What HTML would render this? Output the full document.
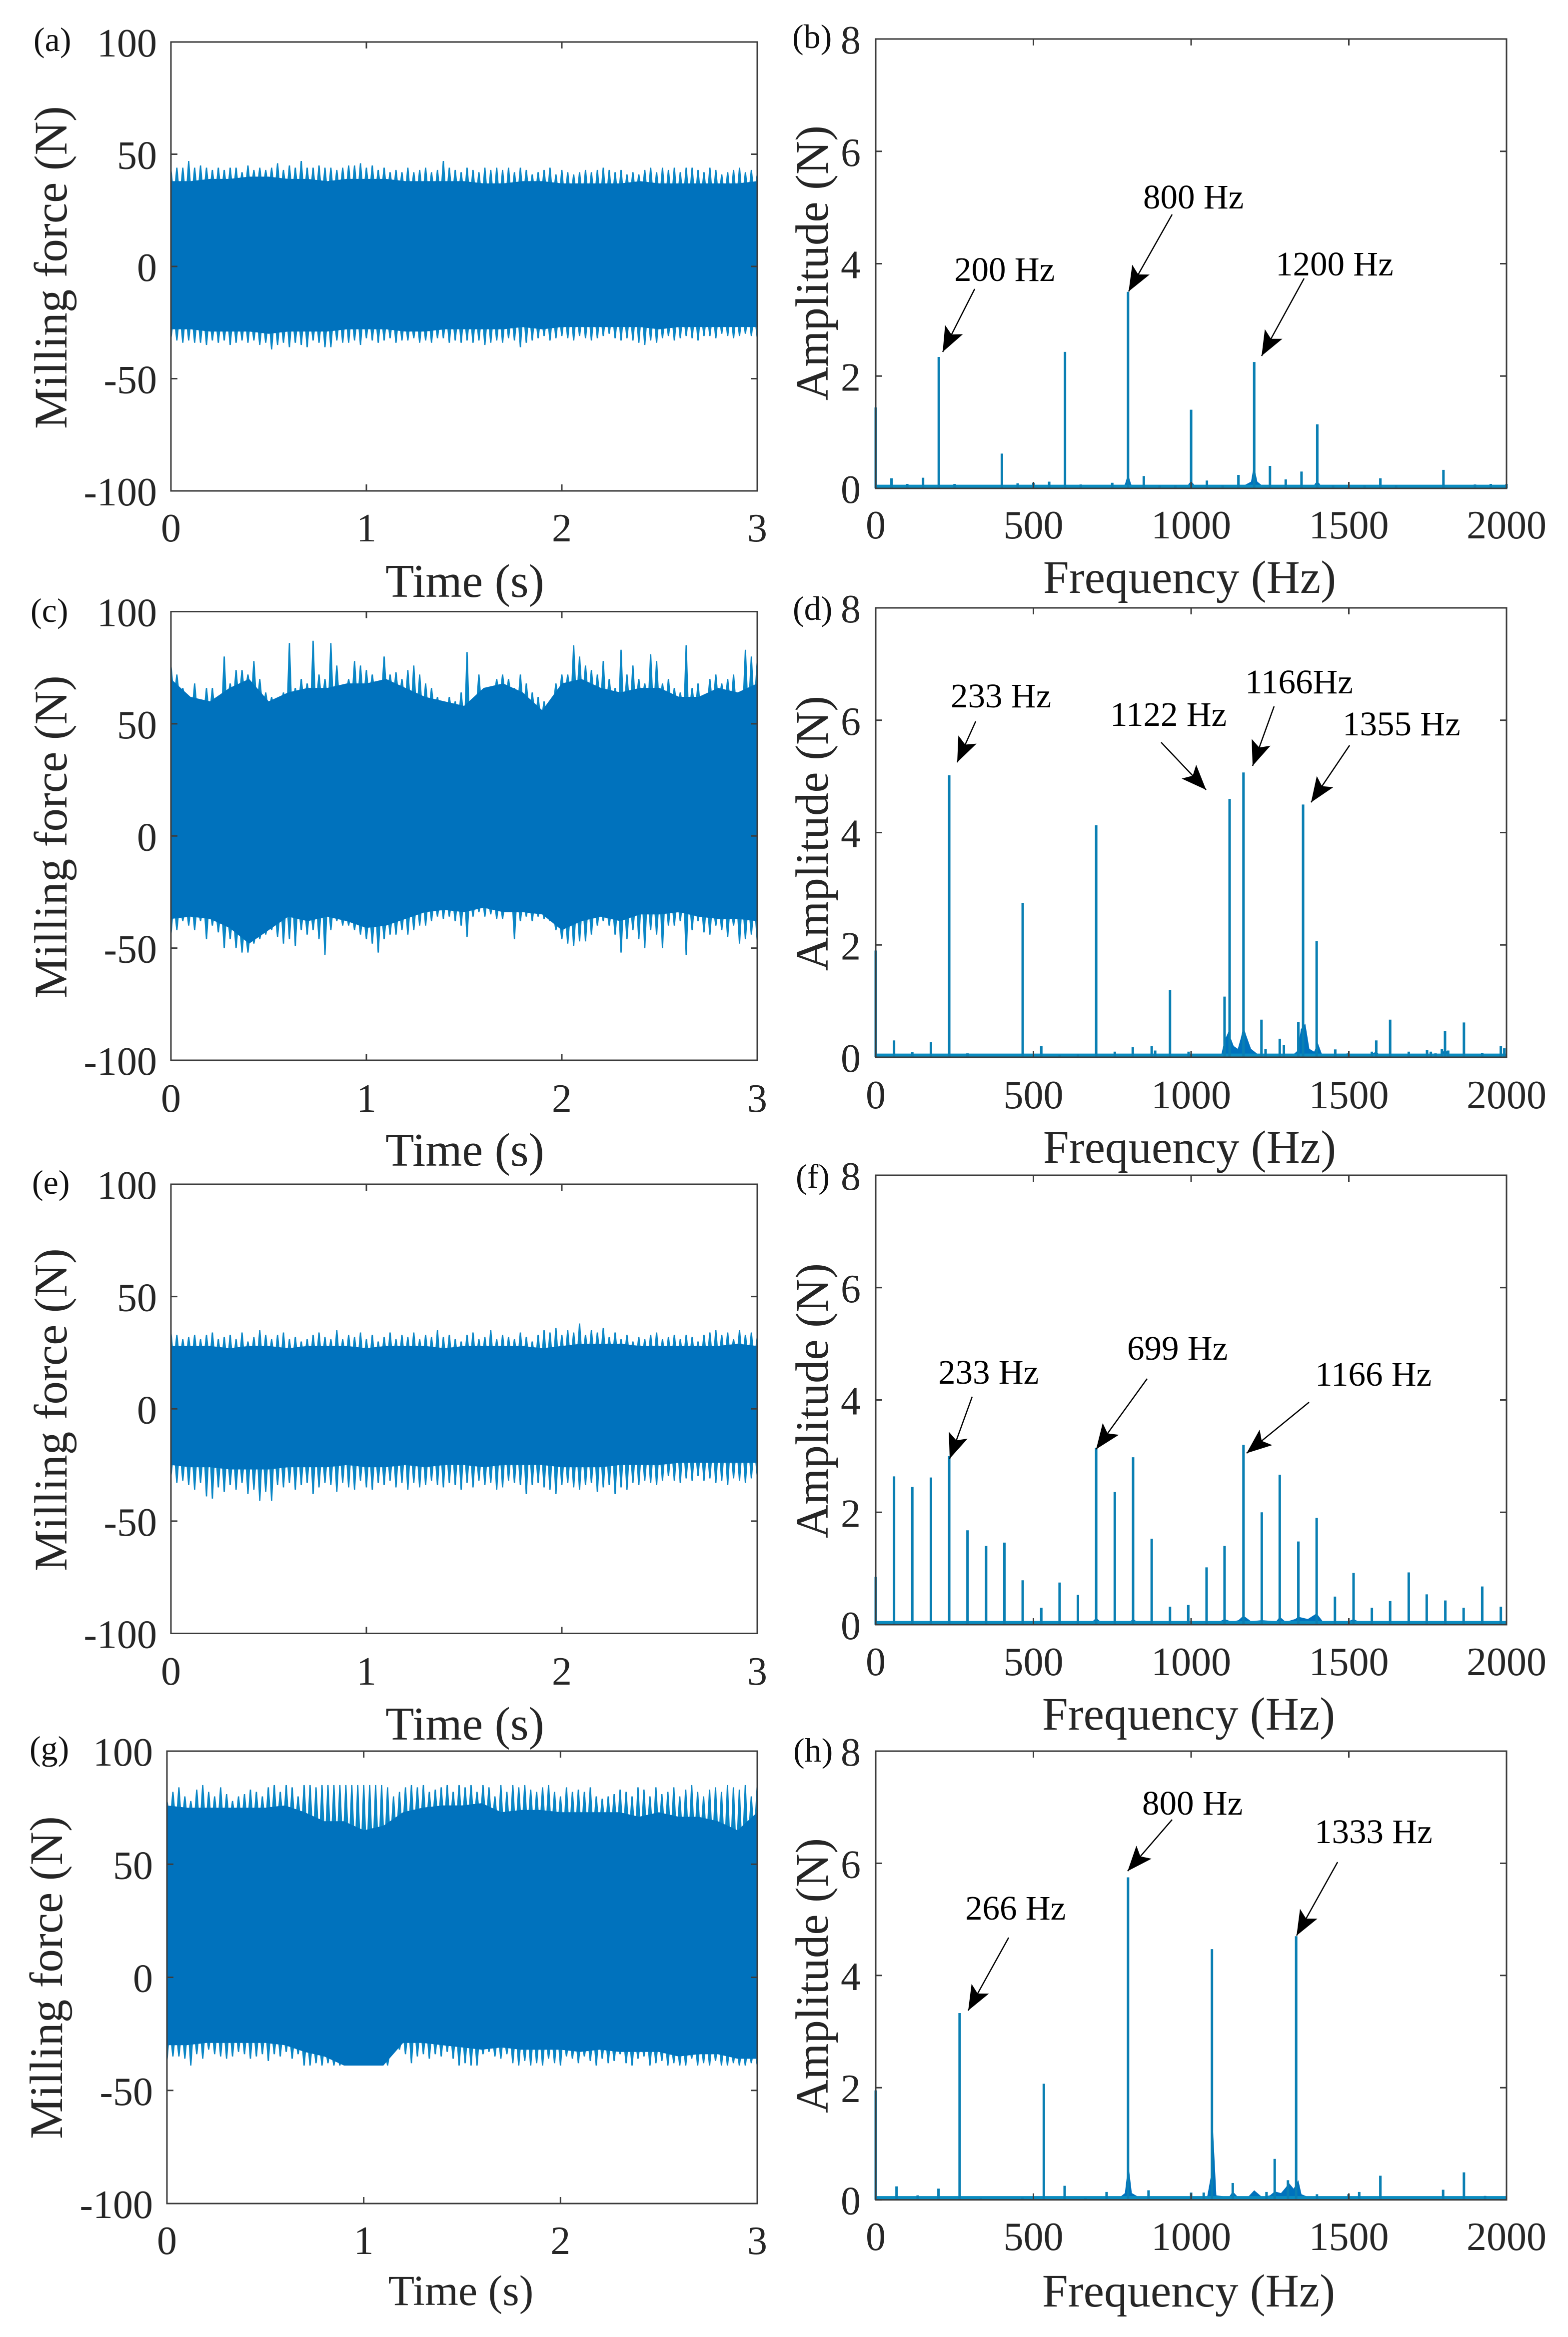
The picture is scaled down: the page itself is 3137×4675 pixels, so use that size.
<!DOCTYPE html>
<html lang="en">
<head>
<meta charset="utf-8">
<title>Milling force and amplitude spectra</title>
<style>
html,body{margin:0;padding:0;background:#fff;}
svg{display:block;font-family:"Liberation Serif","Times New Roman",serif;}
.tick{font-size:80px;fill:#262626;}
.axt{font-size:93px;fill:#262626;text-anchor:middle;}
.axx{font-size:94px;fill:#262626;text-anchor:middle;}
.axf{font-size:93px;fill:#262626;text-anchor:middle;}
.pl{font-size:68px;fill:#111;}
.an{font-size:69px;fill:#000;}
.ar{stroke:#000;stroke-width:2.5;fill:none;}
</style>
</head>
<body>
<svg id="fig" xmlns="http://www.w3.org/2000/svg" width="3137" height="4675" viewBox="0 0 3137 4675">
<defs>
<marker id="head" markerUnits="userSpaceOnUse" markerWidth="60" markerHeight="50" refX="50" refY="20" orient="auto">
<path d="M50 20 L0 0 L11 20 L0 40 Z" fill="#000"/>
</marker>
</defs>
<rect x="0" y="0" width="3137" height="4675" fill="#fff"/>
<g id="plots"></g>

<text class="pl" x="67" y="102">(a)</text>
<text class="pl" x="1585" y="96">(b)</text>
<text class="pl" x="61" y="1244">(c)</text>
<text class="pl" x="1586" y="1240">(d)</text>
<text class="pl" x="64" y="2388">(e)</text>
<text class="pl" x="1592" y="2376">(f)</text>
<text class="pl" x="59" y="3520">(g)</text>
<text class="pl" x="1587" y="3524">(h)</text>

<text class="axt" transform="translate(133 535) rotate(-90)">Milling force (N)</text>
<text class="axx" x="930" y="1194">Time (s)</text>
<text class="axt" transform="translate(1656 526) rotate(-90)">Amplitude (N)</text>
<text class="axf" x="2380" y="1186">Frequency (Hz)</text>

<text class="axt" transform="translate(133 1674) rotate(-90)">Milling force (N)</text>
<text class="axx" x="930" y="2332">Time (s)</text>
<text class="axt" transform="translate(1656 1667) rotate(-90)">Amplitude (N)</text>
<text class="axf" x="2380" y="2326">Frequency (Hz)</text>

<text class="axt" transform="translate(133 2820) rotate(-90)">Milling force (N)</text>
<text class="axx" x="930" y="3480">Time (s)</text>
<text class="axt" transform="translate(1656 2802) rotate(-90)">Amplitude (N)</text>
<text class="axf" x="2378" y="3460">Frequency (Hz)</text>

<text class="axt" transform="translate(124 3956) rotate(-90)">Milling force (N)</text>
<text class="axt" style="font-size:86px" x="922" y="4611">Time (s)</text>
<text class="axt" transform="translate(1656 3952) rotate(-90)">Amplitude (N)</text>
<text class="axf" x="2378" y="4614">Frequency (Hz)</text>

<text class="an" x="1909" y="562">200 Hz</text>
<line class="ar" x1="1950" y1="578" x2="1886" y2="704" marker-end="url(#head)"/>
<text class="an" x="2287" y="417">800 Hz</text>
<line class="ar" x1="2345" y1="429" x2="2258" y2="583" marker-end="url(#head)"/>
<text class="an" x="2552" y="551">1200 Hz</text>
<line class="ar" x1="2609" y1="557" x2="2524" y2="712" marker-end="url(#head)"/>

<text class="an" x="1902" y="1415">233 Hz</text>
<line class="ar" x1="1952" y1="1443" x2="1915" y2="1525" marker-end="url(#head)"/>
<text class="an" x="2221" y="1452">1122 Hz</text>
<line class="ar" x1="2323" y1="1485" x2="2413" y2="1580" marker-end="url(#head)"/>
<text class="an" x="2491" y="1387">1166Hz</text>
<line class="ar" x1="2549" y1="1413" x2="2506" y2="1532" marker-end="url(#head)"/>
<text class="an" x="2686" y="1471">1355 Hz</text>
<line class="ar" x1="2700" y1="1491" x2="2623" y2="1605" marker-end="url(#head)"/>

<text class="an" x="1877" y="2768">233 Hz</text>
<line class="ar" x1="1945" y1="2794" x2="1900" y2="2918" marker-end="url(#head)"/>
<text class="an" x="2255" y="2720">699 Hz</text>
<line class="ar" x1="2295" y1="2758" x2="2193" y2="2899" marker-end="url(#head)"/>
<text class="an" x="2631" y="2772">1166 Hz</text>
<line class="ar" x1="2619" y1="2805" x2="2494" y2="2907" marker-end="url(#head)"/>

<text class="an" x="2285" y="3630">800 Hz</text>
<line class="ar" x1="2345" y1="3640" x2="2256" y2="3743" marker-end="url(#head)"/>
<text class="an" x="2630" y="3687">1333 Hz</text>
<line class="ar" x1="2676" y1="3725" x2="2594" y2="3872" marker-end="url(#head)"/>
<text class="an" x="1931" y="3840">266 Hz</text>
<line class="ar" x1="2018" y1="3876" x2="1937" y2="4022" marker-end="url(#head)"/>
</svg>

<script>
// ---- tick labels ----
const forceTicks = [-100, -50, 0, 50, 100];
const timeTicks = [0, 1, 2, 3];
const ampTicks = [0, 2, 4, 6, 8];
const freqTicks = [0, 500, 1000, 1500, 2000];

// ---- time-domain series: peak envelopes (N), sampled uniformly over 0-3 s ----
const forcePeakTopA = [43,44,44,47,44,45,44,43,44,43,44,44,42,45,43,44,43,44,46,43,45,44,47,44,44,45,44,44,43,44,45,45,46,44,45,43,44,42,43,42,44,42,43,44,42,43,47,44,43,42,44,43,42,44,43,44,43,44,42,44,43,41,42,43,44,41,43,42,41,42,43,42,43,44,43,42,43,41,42,41,43,44,42,44,43,44,42,44,44,43,42,44,43,41,42,43,44,42,43,41];
const forcePeakBotA = [-32,-33,-34,-33,-34,-34,-35,-33,-34,-33,-35,-34,-33,-34,-33,-35,-34,-37,-35,-34,-36,-34,-35,-36,-33,-34,-36,-36,-33,-34,-34,-33,-35,-32,-33,-34,-33,-32,-34,-33,-33,-32,-34,-33,-34,-32,-32,-34,-33,-34,-33,-34,-33,-35,-34,-33,-34,-32,-33,-36,-34,-33,-32,-31,-33,-32,-31,-32,-33,-31,-32,-33,-32,-31,-30,-32,-33,-32,-33,-34,-35,-33,-34,-32,-31,-33,-32,-31,-32,-33,-31,-31,-32,-30,-31,-32,-31,-30,-31,-32];
const forceBodyTopA = [38,38,39,39,40,40,39,39,38,39,39,39,38,38,38,38,37,37,38,38,37,37,37,37,38,37,37,37,37,37,38];
const forceBodyBotA = [-28,-28,-29,-29,-29,-30,-29,-29,-29,-28,-28,-28,-29,-29,-28,-28,-28,-28,-27,-28,-27,-27,-27,-27,-27,-28,-27,-27,-27,-27,-27];

const forcePeakTopC = [76,72,66,60,68,58,66,66,62,80,68,74,74,72,78,70,64,62,58,64,86,66,70,68,87,72,70,86,76,65,70,78,76,74,72,68,80,72,73,70,74,76,72,68,66,62,60,62,60,64,82,60,72,56,64,70,72,70,66,72,68,64,62,60,56,68,72,72,85,80,76,74,72,78,70,66,83,72,76,70,68,81,78,68,70,66,64,85,66,68,62,70,72,68,70,72,64,83,80,78];
const forcePeakBotC = [-44,-42,-38,-40,-42,-38,-46,-40,-43,-50,-46,-50,-52,-52,-48,-46,-44,-42,-45,-48,-46,-49,-42,-44,-42,-46,-53,-42,-38,-40,-40,-42,-44,-46,-48,-52,-46,-44,-44,-42,-44,-42,-40,-40,-38,-36,-37,-36,-38,-40,-45,-36,-34,-36,-35,-37,-37,-34,-46,-38,-36,-38,-36,-37,-38,-42,-46,-48,-49,-47,-47,-44,-40,-38,-40,-44,-52,-46,-42,-46,-50,-42,-44,-50,-40,-40,-38,-53,-42,-38,-43,-44,-40,-42,-45,-40,-48,-46,-44,-47];
const forceBodyTopC = [70,62,60,66,70,60,64,66,66,68,68,70,66,62,60,58,66,68,64,56,68,70,66,64,66,66,62,62,66,64,68];
const forceBodyBotC = [-37,-36,-37,-41,-48,-42,-36,-38,-36,-38,-41,-40,-37,-34,-33,-34,-32,-34,-34,-35,-42,-38,-36,-38,-35,-35,-34,-36,-37,-37,-38];

const forcePeakTopE = [34,33,31,32,33,31,33,34,31,32,33,31,34,30,32,35,33,31,33,34,31,32,30,31,33,34,32,31,35,31,33,32,34,31,33,30,32,34,31,33,32,34,31,33,32,35,32,33,31,30,33,34,31,32,35,31,33,32,31,34,32,30,33,35,34,36,33,35,34,38,33,35,34,36,32,34,31,33,30,32,31,33,34,31,32,33,31,33,32,30,33,34,35,33,34,31,35,33,34,32];
const forcePeakBotE = [-30,-33,-32,-34,-36,-33,-39,-40,-35,-37,-34,-36,-33,-38,-36,-41,-37,-41,-34,-35,-33,-36,-34,-33,-38,-35,-33,-34,-37,-33,-35,-36,-32,-35,-36,-33,-34,-32,-35,-33,-36,-33,-35,-34,-32,-34,-35,-33,-34,-36,-33,-35,-32,-34,-33,-36,-35,-32,-33,-34,-38,-34,-33,-35,-36,-38,-34,-33,-35,-36,-34,-33,-37,-35,-34,-38,-35,-36,-33,-34,-32,-33,-34,-32,-30,-32,-33,-31,-32,-30,-32,-31,-33,-32,-34,-31,-32,-33,-31,-30];
const forceBodyTopE = [28,28,28,27,28,28,27,28,28,28,27,28,28,28,27,28,28,28,28,27,28,29,29,29,28,28,28,28,28,29,28];
const forceBodyBotE = [-25,-26,-26,-27,-27,-27,-26,-26,-26,-25,-26,-26,-25,-26,-25,-25,-26,-25,-25,-25,-26,-26,-26,-25,-25,-25,-24,-24,-24,-24,-24];

const forcePeakTopG = [78,82,84,80,78,83,85,82,80,84,81,78,80,81,83,82,80,84,85,82,85,84,80,85,85,84,85,85,85,85,85,85,85,85,85,85,85,84,80,82,84,85,84,85,82,83,84,85,82,85,84,85,82,85,84,80,85,82,85,84,85,83,82,84,85,82,80,84,82,83,82,84,80,79,80,81,83,82,80,84,83,80,84,81,82,84,80,83,85,82,80,83,84,82,85,84,83,85,80,85];
const forcePeakBotG = [-37,-35,-35,-36,-39,-34,-36,-32,-34,-35,-36,-35,-33,-34,-36,-35,-34,-37,-34,-35,-33,-36,-34,-39,-39,-38,-39,-38,-39,-39,-39,-39,-39,-39,-39,-39,-39,-39,-33,-32,-34,-38,-35,-34,-36,-34,-35,-33,-36,-39,-38,-39,-39,-34,-33,-35,-36,-34,-38,-39,-37,-39,-38,-39,-36,-38,-39,-35,-36,-38,-35,-37,-39,-36,-38,-37,-34,-38,-39,-36,-35,-39,-38,-37,-39,-38,-39,-39,-36,-39,-38,-39,-37,-39,-39,-38,-39,-39,-38,-39];
const forceBodyTopG = [76,75,75,75,75,75,76,73,69,69,65,67,73,75,76,76,77,73,74,74,73,73,73,73,71,73,71,71,69,65,73];
const forceBodyBotG = [-30,-30,-29,-29,-29,-29,-30,-33,-35,-39,-39,-39,-29,-29,-30,-31,-32,-31,-32,-32,-32,-33,-32,-33,-33,-33,-35,-34,-34,-36,-36];

// ---- spectra: stem frequencies (Hz) and amplitudes (N), broadband skirts ----
const freqB = [0,50,100,150,200,250,400,450,500,550,600,650,750,800,850,900,950,1000,1050,1100,1150,1200,1250,1300,1350,1400,1450,1550,1600,1650,1800,1900,1950,2000];
const ampB = [1.44,0.18,0.08,0.19,2.34,0.08,0.62,0.09,0.1,0.12,2.43,0.07,0.1,3.5,0.22,0.05,0.05,1.4,0.14,0.05,0.24,2.25,0.4,0.16,0.3,1.14,0.05,0.05,0.18,0.05,0.33,0.07,0.08,0.08];
const skirtFreqB = [0,770,790,797,803,810,830,985,995,1005,1015,1120,1170,1190,1197,1203,1210,1230,1385,1395,1405,1415,2000];
const skirtAmpB = [0,0.02,0.07,0.2,0.2,0.07,0.02,0.02,0.1,0.1,0.02,0.03,0.06,0.12,0.35,0.3,0.12,0.03,0.02,0.1,0.1,0.02,0];

const freqD = [0,58,116,175,233,291,466,525,583,641,699,758,815,875,886,933,992,1106,1122,1166,1223,1236,1281,1294,1340,1355,1398,1457,1497,1573,1587,1631,1690,1748,1760,1775,1795,1805,1815,1865,1923,1982,1993];
const ampD = [1.9,0.3,0.09,0.27,5.02,0.07,2.75,0.2,0.04,0.05,4.13,0.1,0.18,0.2,0.12,1.2,0.1,1.08,4.6,5.07,0.67,0.15,0.33,0.22,0.63,4.5,2.07,0.14,0.07,0.1,0.3,0.67,0.1,0.13,0.1,0.07,0.15,0.47,0.12,0.62,0.08,0.2,0.16];
const skirtFreqD = [0,1095,1106,1118,1135,1148,1158,1166,1174,1190,1210,1320,1338,1348,1362,1375,1390,1402,1415,1560,1587,1600,1790,1805,1820,2000];
const skirtAmpD = [0,0.03,0.3,0.45,0.2,0.15,0.35,0.55,0.4,0.15,0.06,0.03,0.12,0.5,0.6,0.15,0.1,0.25,0.05,0.03,0.1,0.03,0.03,0.15,0.03,0];

const freqF = [0,58,116,175,233,291,350,408,466,525,583,641,699,758,816,875,933,991,1049,1106,1166,1224,1281,1340,1398,1456,1515,1573,1631,1690,1747,1806,1864,1923,1982];
const ampF = [0.85,2.64,2.45,2.62,3.0,1.68,1.4,1.46,0.79,0.3,0.75,0.53,3.15,2.36,2.98,1.53,0.32,0.35,1.02,1.4,3.2,2.0,2.67,1.48,1.9,0.5,0.92,0.3,0.42,0.93,0.54,0.43,0.3,0.68,0.32];
const skirtFreqF = [0,680,699,720,800,816,835,1080,1106,1130,1150,1166,1190,1224,1270,1281,1300,1330,1340,1370,1398,1420,1490,1515,1540,2000];
const skirtAmpF = [0,0.02,0.12,0.02,0.03,0.1,0.03,0.03,0.1,0.05,0.08,0.16,0.06,0.08,0.06,0.14,0.05,0.1,0.14,0.1,0.2,0.04,0.04,0.1,0.03,0];

const freqH = [0,66,133,199,266,333,465,533,599,665,732,800,865,1000,1040,1066,1132,1239,1265,1307,1333,1399,1499,1533,1600,1799,1865,1932];
const ampH = [1.95,0.24,0.08,0.2,3.33,0.03,0.04,2.07,0.25,0.03,0.14,5.75,0.17,0.13,0.13,4.47,0.3,0.14,0.73,0.35,4.7,0.1,0.1,0.14,0.43,0.18,0.49,0.07];
const skirtFreqH = [0,770,790,798,804,812,840,1050,1062,1068,1080,1120,1132,1150,1180,1200,1225,1250,1265,1285,1300,1310,1325,1340,1350,1380,2000];
const skirtAmpH = [0,0.03,0.12,0.5,0.5,0.12,0.03,0.03,0.4,1.4,0.08,0.05,0.15,0.04,0.05,0.17,0.05,0.08,0.15,0.12,0.22,0.3,0.2,0.35,0.1,0.03,0];

const noiseFloor = 0.035;

const SVGNS = 'http://www.w3.org/2000/svg';
const root = document.getElementById('plots');

function make(tag, parent, name) {
  const el = document.createElementNS(SVGNS, tag);
  
  
  parent.appendChild(el);
  return el;
}
function linear(d0, d1, r0, r1) {
  return function (v) { return r0 + (v - d0) / (d1 - d0) * (r1 - r0); };
}

function drawAxes(g, box, sx, sy, xTicks, yTicks, id) {
  const frame = make('rect', g, 'axes-frame-' + id);
  frame.setAttribute('x', box.l);
  frame.setAttribute('y', box.t);
  frame.setAttribute('width', box.r - box.l);
  frame.setAttribute('height', box.b - box.t);
  frame.setAttribute('fill', 'none');
  frame.setAttribute('stroke', '#3c3c3c');
  frame.setAttribute('stroke-width', '3');
  const tl = 13;
  xTicks.forEach(function (v) {
    const x = sx(v);
    const t = make('path', g, 'x-tick-' + id);
    t.setAttribute('d', 'M' + x + ' ' + box.b + 'v' + (-tl) + 'M' + x + ' ' + box.t + 'v' + tl);
    t.setAttribute('stroke', '#3c3c3c');
    t.setAttribute('stroke-width', '3');
    const lab = make('text', g, 'x-tick-label-' + id);
    lab.setAttribute('class', 'tick');
    lab.setAttribute('x', x);
    lab.setAttribute('y', box.xb);
    lab.setAttribute('text-anchor', 'middle');
    lab.textContent = String(v);
  });
  yTicks.forEach(function (v) {
    const y = sy(v);
    const t = make('path', g, 'y-tick-' + id);
    t.setAttribute('d', 'M' + box.l + ' ' + y + 'h' + tl + 'M' + box.r + ' ' + y + 'h' + (-tl));
    t.setAttribute('stroke', '#3c3c3c');
    t.setAttribute('stroke-width', '3');
    const lab = make('text', g, 'y-tick-label-' + id);
    lab.setAttribute('class', 'tick');
    lab.setAttribute('x', box.yr);
    lab.setAttribute('y', y + 29);
    lab.setAttribute('text-anchor', 'end');
    lab.textContent = String(v);
  });
}

function drawForce(box, id, peakTop, peakBot, bodyTop, bodyBot) {
  const g = make('g', root, 'force-panel-' + id);
  const sx = linear(0, 3, box.l, box.r);
  const sy = linear(-100, 100, box.b, box.t);
  const bodyAt = function (arr, t) {
    const p = t / 3 * (arr.length - 1);
    const i = Math.min(Math.floor(p), arr.length - 2);
    return arr[i] + (arr[i + 1] - arr[i]) * (p - i);
  };
  const baseHalf = 5;
  const tipHalf = 1.3;
  const clampX = function (x) { return Math.max(box.l, Math.min(box.r, x)); };
  const spike = function (t, base, tip) {
    const x = sx(t);
    return 'M' + clampX(x - baseHalf).toFixed(1) + ' ' + sy(base).toFixed(1) +
      'L' + clampX(x - tipHalf).toFixed(1) + ' ' + sy(tip).toFixed(1) +
      'L' + clampX(x + tipHalf).toFixed(1) + ' ' + sy(tip).toFixed(1) +
      'L' + clampX(x + baseHalf).toFixed(1) + ' ' + sy(base).toFixed(1) + 'Z';
  };
  let spikes = '';
  peakTop.forEach(function (v, i) {
    const t = i / (peakTop.length - 1) * 3;
    spikes += spike(t, bodyAt(bodyTop, t) - 3, v);
  });
  peakBot.forEach(function (v, i) {
    const t = i / (peakBot.length - 1) * 3;
    spikes += spike(t, bodyAt(bodyBot, t) + 3, v);
  });
  const sp = make('path', g, 'force-peaks-' + id);
  sp.setAttribute('d', spikes);
  sp.setAttribute('fill', '#0a86c6');
  let d = '';
  bodyTop.forEach(function (v, i) {
    d += (i ? 'L' : 'M') + sx(i / (bodyTop.length - 1) * 3).toFixed(1) + ' ' + sy(v).toFixed(1);
  });
  for (let i = bodyBot.length - 1; i >= 0; i--) {
    d += 'L' + sx(i / (bodyBot.length - 1) * 3).toFixed(1) + ' ' + sy(bodyBot[i]).toFixed(1);
  }
  const body = make('path', g, 'force-signal-' + id);
  body.setAttribute('d', d + 'Z');
  body.setAttribute('fill', '#0072bd');
  drawAxes(g, box, sx, sy, timeTicks, forceTicks, id);
}

function drawSpectrum(box, id, freq, amp, skirtFreq, skirtAmp) {
  const g = make('g', root, 'spectrum-panel-' + id);
  const sx = linear(0, 2000, box.l, box.r);
  const sy = linear(0, 8, box.b, box.t);
  let d = '';
  skirtFreq.forEach(function (f, i) {
    d += (i ? 'L' : 'M') + sx(f).toFixed(1) + ' ' + sy(skirtAmp[i]).toFixed(1);
  });
  const skirt = make('path', g, 'spectrum-skirt-' + id);
  skirt.setAttribute('d', d + 'Z');
  skirt.setAttribute('fill', '#0072bd');
  const floor = make('line', g, 'spectrum-noise-floor-' + id);
  floor.setAttribute('x1', sx(0));
  floor.setAttribute('x2', sx(2000));
  floor.setAttribute('y1', sy(noiseFloor));
  floor.setAttribute('y2', sy(noiseFloor));
  floor.setAttribute('stroke', '#0a8cc0');
  floor.setAttribute('stroke-width', '7');
  freq.forEach(function (f, i) {
    const s = make('line', g, 'spectrum-peak-' + id);
    s.setAttribute('x1', sx(f));
    s.setAttribute('x2', sx(f));
    s.setAttribute('y1', sy(0));
    s.setAttribute('y2', sy(amp[i]));
    s.setAttribute('stroke', '#0a7fb3');
    s.setAttribute('stroke-width', '5');
  });
  drawAxes(g, box, sx, sy, freqTicks, ampTicks, id);
}

drawForce({l:342,r:1515,t:84,b:982,xb:1083,yr:314}, 'a', forcePeakTopA, forcePeakBotA, forceBodyTopA, forceBodyBotA);
drawSpectrum({l:1752,r:3014,t:78,b:977,xb:1077,yr:1722}, 'b', freqB, ampB, skirtFreqB, skirtAmpB);
drawForce({l:342,r:1515,t:1223.5,b:2121,xb:2224,yr:314}, 'c', forcePeakTopC, forcePeakBotC, forceBodyTopC, forceBodyBotC);
drawSpectrum({l:1752,r:3014,t:1216,b:2115,xb:2217,yr:1722}, 'd', freqD, ampD, skirtFreqD, skirtAmpD);
drawForce({l:342,r:1515,t:2369,b:3267.5,xb:3370,yr:314}, 'e', forcePeakTopE, forcePeakBotE, forceBodyTopE, forceBodyBotE);
drawSpectrum({l:1752,r:3014,t:2351,b:3250,xb:3351,yr:1722}, 'f', freqF, ampF, skirtFreqF, skirtAmpF);
drawForce({l:334,r:1515,t:3503,b:4408,xb:4509,yr:306}, 'g', forcePeakTopG, forcePeakBotG, forceBodyTopG, forceBodyBotG);
drawSpectrum({l:1752,r:3014,t:3503,b:4400.6,xb:4501,yr:1722}, 'h', freqH, ampH, skirtFreqH, skirtAmpH);
</script>
</body>
</html>
